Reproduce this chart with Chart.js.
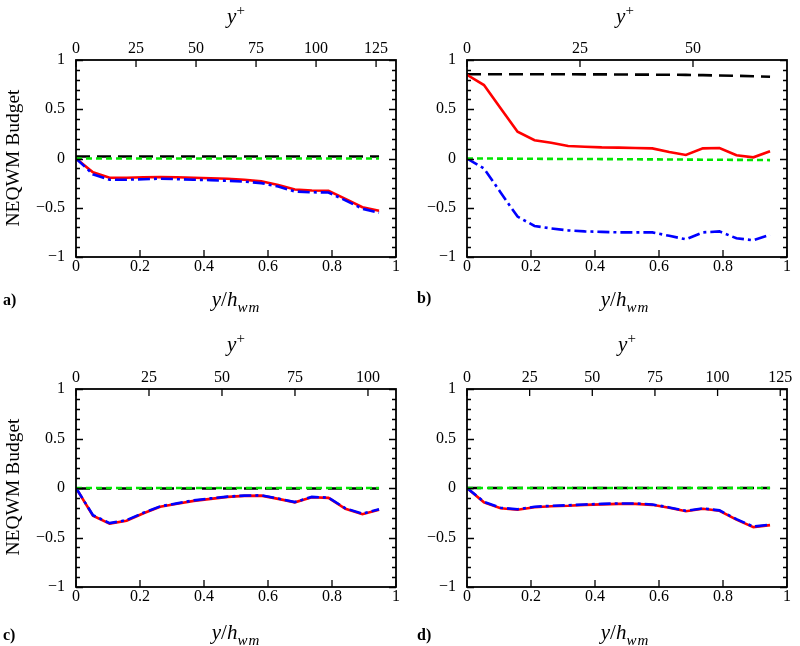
<!DOCTYPE html>
<html>
<head>
<meta charset="utf-8">
<script src="https://cdn.jsdelivr.net/npm/chart.js@4/dist/chart.umd.min.js"></script>
<style>
    body { margin: 0; background: #fff; }
    #wrap { position: relative; width: 800px; height: 646px; font-family: "Liberation Serif", serif; color: #000; }
    .panel { position: absolute; width: 400px; height: 323px; }
    .txt { position: absolute; transform: translate(-50%, -50%); white-space: nowrap; font-size: 21px; line-height: 1; }
    .tag { position: absolute; transform: translateY(-50%); font-weight: bold; font-size: 16px; }
    .ylab { position: absolute; transform: translate(-50%, -50%) rotate(-90deg); white-space: nowrap; font-size: 19.5px; }
    sub { font-size: 15px; letter-spacing: 1px; }
    sup { font-size: 15px; }
</style>
</head>
<body>
<div id="wrap">
    <div class="panel" style="left:0;top:0"><canvas id="chart-a" width="400" height="323"></canvas></div>
    <div class="panel" style="left:400px;top:0"><canvas id="chart-b" width="400" height="323"></canvas></div>
    <div class="panel" style="left:0;top:323px"><canvas id="chart-c" width="400" height="323"></canvas></div>
    <div class="panel" style="left:400px;top:323px"><canvas id="chart-d" width="400" height="323"></canvas></div>

    <div class="txt" style="left:236px;top:15px"><i>y</i><sup>+</sup></div>
    <div class="txt" style="left:625px;top:15px"><i>y</i><sup>+</sup></div>
    <div class="txt" style="left:236px;top:343px"><i>y</i><sup>+</sup></div>
    <div class="txt" style="left:627px;top:343px"><i>y</i><sup>+</sup></div>

    <div class="txt" style="left:236px;top:302px"><i>y</i>/<i>h</i><sub><i>wm</i></sub></div>
    <div class="txt" style="left:625px;top:302px"><i>y</i>/<i>h</i><sub><i>wm</i></sub></div>
    <div class="txt" style="left:236px;top:635px"><i>y</i>/<i>h</i><sub><i>wm</i></sub></div>
    <div class="txt" style="left:625px;top:635px"><i>y</i>/<i>h</i><sub><i>wm</i></sub></div>

    <div class="tag" style="left:3px;top:300px">a)</div>
    <div class="tag" style="left:417px;top:298px">b)</div>
    <div class="tag" style="left:3px;top:635px">c)</div>
    <div class="tag" style="left:417px;top:635px">d)</div>

    <div class="ylab" style="left:13px;top:158px">NEQWM Budget</div>
    <div class="ylab" style="left:13px;top:487px">NEQWM Budget</div>
</div>
<script>
// sample positions y/h_wm
const xPos = [0, 0.053, 0.105, 0.158, 0.211, 0.263, 0.316, 0.368, 0.421, 0.474, 0.526, 0.579, 0.632, 0.684, 0.737, 0.789, 0.842, 0.895, 0.947];

// top axis (y+) range of each panel
const yPlusMax = [133.3, 70.8, 109.6, 127.7];

// panel a
const aBlack = [0.02, 0.02, 0.02, 0.02, 0.02, 0.02, 0.02, 0.02, 0.02, 0.02, 0.02, 0.02, 0.02, 0.02, 0.02, 0.02, 0.02, 0.02, 0.02];
const aRed   = [0, -0.14, -0.195, -0.195, -0.19, -0.188, -0.19, -0.195, -0.2, -0.205, -0.215, -0.232, -0.27, -0.315, -0.325, -0.328, -0.41, -0.495, -0.53];
const aBlue  = [0, -0.16, -0.215, -0.215, -0.21, -0.205, -0.21, -0.215, -0.22, -0.226, -0.235, -0.25, -0.285, -0.335, -0.343, -0.345, -0.425, -0.51, -0.55];
const aGreen = [0, 0, 0, 0, 0, 0, 0, 0, 0, 0, 0, 0, 0, 0, 0, 0, 0, 0, 0];

// panel b
const bBlack = [0.855, 0.855, 0.855, 0.855, 0.855, 0.855, 0.855, 0.854, 0.854, 0.853, 0.852, 0.851, 0.85, 0.849, 0.846, 0.843, 0.84, 0.835, 0.83];
const bRed   = [0.85, 0.746, 0.51, 0.272, 0.185, 0.16, 0.127, 0.12, 0.113, 0.11, 0.107, 0.103, 0.066, 0.036, 0.103, 0.107, 0.033, 0.012, 0.073];
const bBlue  = [0, -0.1, -0.345, -0.59, -0.685, -0.71, -0.73, -0.74, -0.745, -0.75, -0.75, -0.75, -0.785, -0.82, -0.75, -0.74, -0.81, -0.83, -0.775];
const bGreen = [0, 0, -0.001, -0.002, -0.003, -0.004, -0.005, -0.005, -0.006, -0.007, -0.008, -0.009, -0.01, -0.011, -0.012, -0.013, -0.014, -0.015, -0.016];

// panel c
const cBlack = [-0.005, -0.005, -0.005, -0.005, -0.005, -0.005, -0.005, -0.005, -0.005, -0.005, -0.005, -0.005, -0.005, -0.005, -0.005, -0.005, -0.005, -0.005, -0.005];
const cRed   = [0, -0.28, -0.36, -0.33, -0.255, -0.19, -0.16, -0.13, -0.11, -0.09, -0.08, -0.077, -0.11, -0.145, -0.094, -0.1, -0.21, -0.265, -0.22];
const cBlue  = [0, -0.275, -0.355, -0.325, -0.25, -0.185, -0.155, -0.125, -0.105, -0.087, -0.077, -0.074, -0.107, -0.142, -0.09, -0.097, -0.205, -0.26, -0.215];
const cGreen = [0, 0, 0, 0, 0, 0, 0, 0, 0, 0, 0, 0, 0, 0, 0, 0, 0, 0, 0];

// panel d
const dBlack = [0, 0, 0, 0, 0, 0, 0, 0, 0, 0, 0, 0, 0, 0, 0, 0, 0, 0, 0];
const dRed   = [0, -0.145, -0.205, -0.22, -0.195, -0.185, -0.18, -0.17, -0.165, -0.16, -0.16, -0.17, -0.2, -0.235, -0.21, -0.23, -0.32, -0.395, -0.375];
const dBlue  = [0, -0.14, -0.2, -0.215, -0.19, -0.18, -0.175, -0.166, -0.16, -0.156, -0.156, -0.166, -0.196, -0.23, -0.206, -0.226, -0.315, -0.39, -0.37];
const dGreen = [0, 0, 0, 0, 0, 0, 0, 0, 0, 0, 0, 0, 0, 0, 0, 0, 0, 0, 0];

const tickFont = { family: '"Liberation Serif", serif', size: 16 };

const fmt = v => {
    const s = String(Math.round(v * 1000) / 1000);
    return s.replace('-', '\u2212');
};
const isMajor = v => Math.abs(v * 2 - Math.round(v * 2)) < 1e-6;

const pts = ys => ys.map((y, i) => ({ x: xPos[i], y }));

// inward ticks and frame like the original plot
const frameTicks = {
    id: 'frameTicks',
    afterDatasetsDraw(chart) {
        const { ctx, chartArea: a, scales } = chart;
        ctx.save();
        ctx.strokeStyle = '#000';
        ctx.lineWidth = 1.3;
        ctx.beginPath();
        scales.y.ticks.forEach(t => {
            const p = Math.round(scales.y.getPixelForValue(t.value)) + 0.5;
            const len = isMajor(t.value) ? 7 : 4;
            ctx.moveTo(a.left, p); ctx.lineTo(a.left + len, p);
            ctx.moveTo(a.right, p); ctx.lineTo(a.right - len, p);
        });
        scales.x.ticks.forEach(t => {
            const p = scales.x.getPixelForValue(t.value);
            ctx.moveTo(p, a.bottom); ctx.lineTo(p, a.bottom - 7);
        });
        scales.x2.ticks.forEach(t => {
            const p = scales.x2.getPixelForValue(t.value);
            ctx.moveTo(p, a.top); ctx.lineTo(p, a.top + 7);
        });
        ctx.stroke();
        ctx.lineWidth = 1.8;
        ctx.strokeRect(a.left, a.top, a.right - a.left, a.bottom - a.top);
        ctx.restore();
    }
};

const makeChart = (id, series, topMax, box) => {
    const [black, red, blue, green] = series;
    return new Chart(document.getElementById(id), {
        type: 'line',
        data: {
            datasets: [
                { data: pts(black), borderColor: '#000', borderWidth: 2.6, borderDash: [14, 7], order: 4 },
                { data: pts(red), borderColor: '#ff0000', borderWidth: 2.6, order: 3 },
                { data: pts(blue), borderColor: '#0000ff', borderWidth: 2.6, borderDash: [12, 4, 3, 4], order: 2 },
                { data: pts(green), borderColor: '#00e600', borderWidth: 2.6, borderDash: [6, 4], order: 1 }
            ]
        },
        options: {
            responsive: false,
            animation: false,
            devicePixelRatio: 1,
            layout: { padding: 0 },
            elements: { point: { radius: 0 }, line: { tension: 0 } },
            plugins: { legend: { display: false }, tooltip: { enabled: false } },
            scales: {
                x: {
                    type: 'linear', position: 'bottom', min: 0, max: 1,
                    ticks: { stepSize: 0.2, font: tickFont, color: '#000', padding: 0, maxRotation: 0, callback: fmt },
                    grid: { display: false, drawTicks: false }, border: { display: false },
                    afterFit: s => { s.height = 323 - box.bottom; }
                },
                x2: {
                    type: 'linear', position: 'top', min: 0, max: topMax,
                    ticks: { stepSize: 25, includeBounds: false, font: tickFont, color: '#000', padding: 2, maxRotation: 0, callback: fmt },
                    grid: { display: false, drawTicks: false }, border: { display: false },
                    afterFit: s => { s.height = box.top; }
                },
                y: {
                    type: 'linear', position: 'left', min: -1, max: 1,
                    ticks: { stepSize: 0.1, autoSkip: false, font: tickFont, color: '#000', padding: 11,
                        callback: v => isMajor(v) ? fmt(v) : '' },
                    grid: { display: false, drawTicks: false }, border: { display: false },
                    afterFit: s => { s.width = box.left; }
                },
                y2: {
                    type: 'linear', position: 'right', min: -1, max: 1,
                    ticks: { display: false },
                    grid: { display: false, drawTicks: false }, border: { display: false },
                    afterFit: s => { s.width = 400 - box.right; }
                }
            }
        },
        plugins: [frameTicks]
    });
};

makeChart('chart-a', [aBlack, aRed, aBlue, aGreen], yPlusMax[0], { left: 76, right: 396, top: 60, bottom: 257 });
makeChart('chart-b', [bBlack, bRed, bBlue, bGreen], yPlusMax[1], { left: 67, right: 387, top: 60, bottom: 257 });
makeChart('chart-c', [cBlack, cRed, cBlue, cGreen], yPlusMax[2], { left: 76, right: 396, top: 66, bottom: 264 });
makeChart('chart-d', [dBlack, dRed, dBlue, dGreen], yPlusMax[3], { left: 67, right: 387, top: 66, bottom: 264 });
</script>
</body>
</html>
